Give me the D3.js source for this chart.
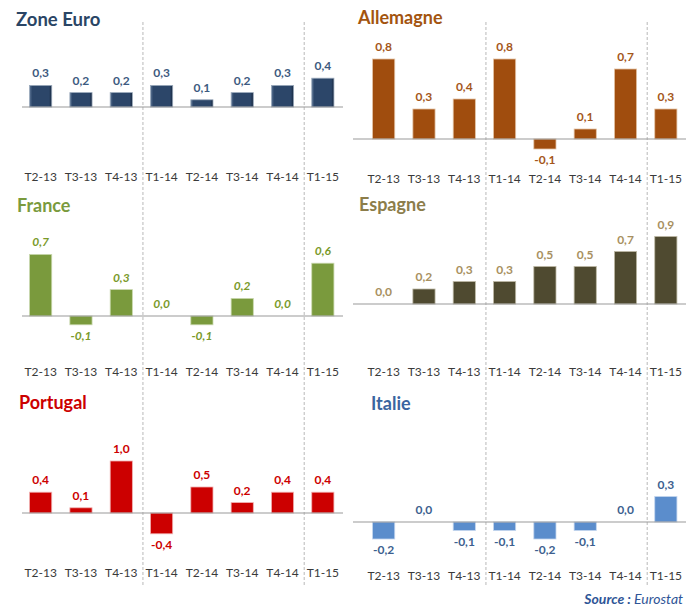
<!DOCTYPE html>
<html><head><meta charset="utf-8">
<script src="https://cdn.jsdelivr.net/npm/d3@7"></script>
<style>
body{margin:0;background:#fff;}
svg{display:block;font-family:Lato,"Open Sans",sans-serif;}
</style></head>
<body>
<svg id="c" width="686" height="606"></svg>
<script>
const categories = ["T2-13","T3-13","T4-13","T1-14","T2-14","T3-14","T4-14","T1-15"];
const zoneEuro  = [0.3, 0.2, 0.2, 0.3, 0.1, 0.2, 0.3, 0.4];
const allemagne = [0.8, 0.3, 0.4, 0.8, -0.1, 0.1, 0.7, 0.3];
const france    = [0.7, -0.1, 0.3, 0.0, -0.1, 0.2, 0.0, 0.6];
const espagne   = [0.0, 0.2, 0.3, 0.3, 0.5, 0.5, 0.7, 0.9];
const portugal  = [0.4, 0.1, 1.0, -0.4, 0.5, 0.2, 0.4, 0.4];
const italie    = [-0.2, 0.0, -0.1, -0.1, -0.2, -0.1, 0.0, 0.3];
const titles = ["Zone Euro","Allemagne","France","Espagne","Portugal","Italie"];
const dividers = ["T1-14","T1-15"];

const svg = d3.select("#c");
const defs = svg.append("defs");
const g1 = defs.append("linearGradient").attr("id","bevel").attr("x1",0).attr("x2",1).attr("y1",0).attr("y2",0);
g1.append("stop").attr("offset","0%").attr("stop-color","#5d7595");
g1.append("stop").attr("offset","12%").attr("stop-color","#2c4669");
g1.append("stop").attr("offset","88%").attr("stop-color","#2c4669");
g1.append("stop").attr("offset","100%").attr("stop-color","#16263d");

const columns = [
  {x0: 20.5, x1: 343, axisX0: 22, axisX1: 343},
  {x0: 363.5, x1: 686, axisX0: 353, axisX1: 686}
];

const panels = [
  {title: titles[0], values: zoneEuro,  col: 0, zero: 107, ppu: 72, tickY: 177, titleX: 16, titleY: 26, titleSize: 18.5,
   bar: "url(#bevel)", stroke: "#9aa9bb", label: "#3d5a80", titleColor: "#2a4565", italic: false},
  {title: titles[1], values: allemagne, col: 1, zero: 139, ppu: 100, tickY: 179, titleX: 358, titleY: 24, titleSize: 18,
   bar: "#a04d0e", stroke: "#e3c3a5", label: "#a4561a", titleColor: "#a3540f", italic: false},
  {title: titles[2], values: france,    col: 0, zero: 316, ppu: 88, tickY: 372, titleX: 17, titleY: 212, titleSize: 18,
   bar: "#7a9a3d", stroke: "#c9d8ae", label: "#7a9a2a", titleColor: "#7a9a3d", italic: true},
  {title: titles[3], values: espagne,   col: 1, zero: 304, ppu: 75, tickY: 372, titleX: 359, titleY: 211, titleSize: 18,
   bar: "#4f4a30", stroke: "#bdb9a5", label: "#a89060", titleColor: "#8c7d4a", italic: false},
  {title: titles[4], values: portugal,  col: 0, zero: 513, ppu: 52, tickY: 573, titleX: 19, titleY: 409, titleSize: 18,
   bar: "#cc0000", stroke: "#f0b0b0", label: "#cc0000", titleColor: "#cc0000", italic: false},
  {title: titles[5], values: italie,    col: 1, zero: 522, ppu: 85, tickY: 576, titleX: 371, titleY: 410, titleSize: 18,
   bar: "#5b8dcc", stroke: "#c2d5ee", label: "#3d5f8f", titleColor: "#3a64a0", italic: false}
];

const fmt = v => d3.format(".1f")(v).replace(".", ",").replace("−","-");

// dashed dividers (continuous over the column)
columns.forEach(c => {
  const x = d3.scaleBand().domain(categories).range([c.x0, c.x1]).paddingInner(0.45).paddingOuter(0.225);
  dividers.forEach(d => {
    const i = categories.indexOf(d);
    const xm = (x(categories[i-1]) + x(d) + x.bandwidth()) / 2 + 1.5;
    svg.append("line").attr("x1", xm).attr("x2", xm).attr("y1", 22).attr("y2", 586)
      .attr("stroke", "#b8b8b8").attr("stroke-width", 1).attr("stroke-dasharray", "3,2");
  });
});

panels.forEach(p => {
  const c = columns[p.col];
  const x = d3.scaleBand().domain(categories).range([c.x0, c.x1]).paddingInner(0.45).paddingOuter(0.225);
  const y = d3.scaleLinear().domain([0, 1]).range([p.zero, p.zero - p.ppu]);
  const g = svg.append("g");
  const data = categories.map((k, i) => ({k, v: p.values[i]}));

  g.selectAll("rect").data(data.filter(d => d.v !== 0)).join("rect")
    .attr("x", d => x(d.k))
    .attr("width", x.bandwidth())
    .attr("y", d => Math.min(y(d.v), y(0)))
    .attr("height", d => Math.abs(y(d.v) - y(0)))
    .attr("fill", p.bar)
    .attr("stroke", p.stroke).attr("stroke-width", 0.8);

  // zero line
  g.append("line").attr("x1", c.axisX0).attr("x2", c.axisX1).attr("y1", y(0)).attr("y2", y(0))
    .attr("stroke", "#9a9a9a").attr("stroke-width", 1.2);

  // value labels
  g.selectAll("text.val").data(data).join("text").attr("class", "val")
    .attr("x", d => x(d.k) + x.bandwidth() / 2)
    .attr("y", d => d.v < 0 ? y(d.v) + 15 : y(d.v) - 8)
    .attr("text-anchor", "middle")
    .attr("font-size", 12).attr("font-weight", "bold")
    .attr("font-style", p.italic ? "italic" : "normal")
    .attr("fill", p.label)
    .text(d => fmt(d.v));

  // category axis
  const ax = g.append("g").attr("transform", `translate(0,${p.tickY - 5})`)
    .call(d3.axisBottom(x).tickSize(0).tickPadding(0));
  ax.select(".domain").remove();
  ax.selectAll("text").attr("font-size", 12).attr("fill", "#3a3a3a")
    .attr("font-family", "Lato, 'Open Sans', sans-serif");

  // title
  svg.append("text").attr("x", p.titleX).attr("y", p.titleY)
    .attr("font-size", p.titleSize).attr("font-weight", "bold")
    .attr("fill", p.titleColor).text(p.title);
});

// source
const src = svg.append("text").attr("x", 683).attr("y", 604).attr("text-anchor", "end")
  .attr("font-size", 14).attr("fill", "#2f5597");
src.append("tspan").attr("font-weight", "bold").attr("font-style", "italic").text("Source : ");
src.append("tspan").attr("font-style", "italic").text("Eurostat");
</script>
</body></html>
